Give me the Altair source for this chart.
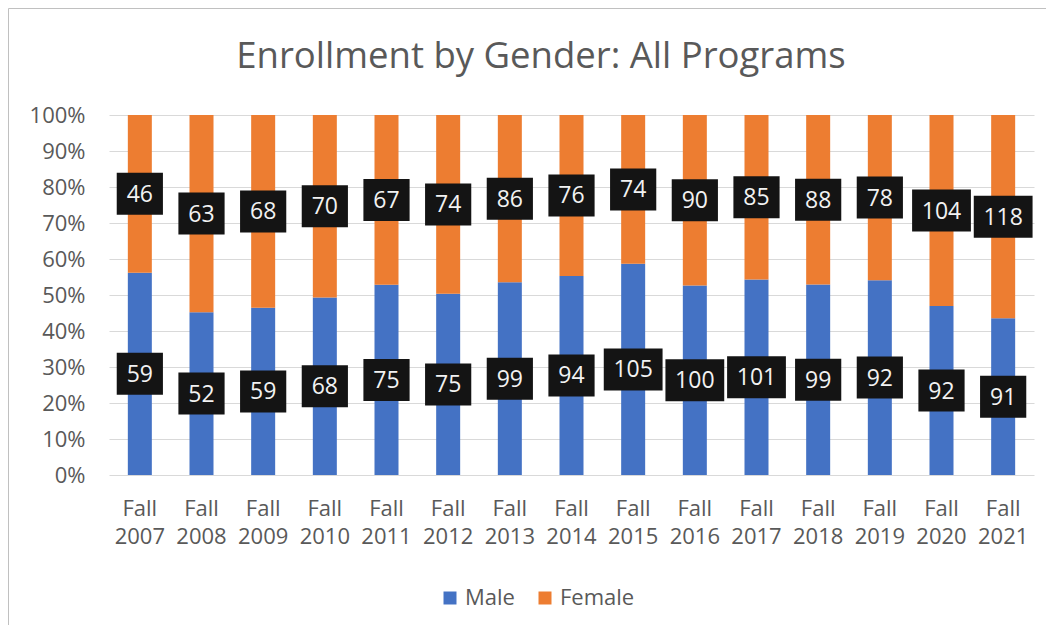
import altair as alt
import pandas as pd

years = ["Fall 2007", "Fall 2008", "Fall 2009", "Fall 2010", "Fall 2011",
         "Fall 2012", "Fall 2013", "Fall 2014", "Fall 2015", "Fall 2016",
         "Fall 2017", "Fall 2018", "Fall 2019", "Fall 2020", "Fall 2021"]
male = [59, 52, 59, 68, 75, 75, 99, 94, 105, 100, 101, 99, 92, 92, 91]
female = [46, 63, 68, 70, 67, 74, 86, 76, 74, 90, 85, 88, 78, 104, 118]
genders = ["Male", "Female"]
colors = ["#4472C4", "#ED7D31"]
y_ticks = [0, 0.1, 0.2, 0.3, 0.4, 0.5, 0.6, 0.7, 0.8, 0.9, 1.0]
title_text = "Enrollment by Gender: All Programs"

rows = []
for i, yr in enumerate(years):
    rows.append({"year": yr, "gender": "Male", "count": male[i], "order": 0})
    rows.append({"year": yr, "gender": "Female", "count": female[i], "order": 1})
df = pd.DataFrame(rows)

FONT = "Open Sans"
GRAY = "#595959"

base = alt.Chart(df).transform_stack(
    stack="count", groupby=["year"], as_=["y0", "y1"], offset="normalize",
    sort=[alt.SortField("order", "ascending")]
).transform_calculate(
    mid="(datum.y0 + datum.y1) / 2",
    ndig="toString(length(toString(datum.count)))"
)

xscale = alt.Scale(paddingInner=0, paddingOuter=0)
xaxis = alt.Axis(title=None, labelAngle=0, domain=False, ticks=False,
                 labelFont=FONT, labelFontSize=22, labelColor=GRAY,
                 labelPadding=23, labelLineHeight=28,
                 labelExpr="split(datum.label, ' ')")
yscale = alt.Scale(domain=[0, 1])
yaxis = alt.Axis(title=None, values=y_ticks, tickCount=len(y_ticks) + 2, format=".0%",
                 domain=False, ticks=False, labelOverlap=False,
                 labelFont=FONT, labelFontSize=22, labelColor=GRAY, labelPadding=24,
                 gridColor="#D9D9D9", gridWidth=1)

X = alt.X("year:N", sort=years, scale=xscale, axis=xaxis)

bars = base.mark_bar(width=24).encode(
    x=X,
    y=alt.Y("y0:Q", scale=yscale, axis=yaxis),
    y2="y1:Q",
    color=alt.Color("gender:N", scale=alt.Scale(domain=genders, range=colors),
                    legend=alt.Legend(title=None, orient="none", direction="horizontal",
                                      legendX=330, legendY=472,
                                      symbolType="square", symbolSize=169,
                                      symbolStrokeWidth=0, symbolOpacity=1,
                                      labelFont=FONT, labelFontSize=22,
                                      labelColor=GRAY, labelOffset=4,
                                      columnPadding=19)),
)

p2 = "M-1.1,-1L1.1,-1L1.1,1L-1.1,1Z"
p3 = "M-1.4,-1L1.4,-1L1.4,1L-1.4,1Z"
boxes = base.mark_point(filled=True, opacity=1, color="#141414", strokeWidth=0).encode(
    x=X,
    y=alt.Y("mid:Q", scale=yscale, axis=yaxis),
    shape=alt.Shape("ndig:N", scale=alt.Scale(domain=["2", "3"], range=[p2, p3]), legend=None),
    size=alt.value(1764),
)

labels = base.mark_text(color="#F2F2F2", font=FONT, fontSize=23, baseline="middle", dy=1).encode(
    x=X,
    y=alt.Y("mid:Q", scale=yscale, axis=yaxis),
    text="count:Q",
)

dummy = pd.DataFrame({"t": [title_text]})
title = alt.Chart(dummy).mark_text(font=FONT, fontSize=36.5, color=GRAY, align="center",
                                   baseline="alphabetic").encode(
    x=alt.value(432), y=alt.value(-47), text="t:N")
frame_left = alt.Chart(dummy).mark_rule(color="#C0C0C0", strokeWidth=1).encode(
    x=alt.value(-100.5), y=alt.value(-106.5), y2=alt.value(530))
frame_top = alt.Chart(dummy).mark_rule(color="#C0C0C0", strokeWidth=1).encode(
    x=alt.value(-100.5), x2=alt.value(940), y=alt.value(-106.5))

chart = alt.layer(bars, boxes, labels, title, frame_left, frame_top).properties(
    width=925, height=360,
    autosize=alt.AutoSizeParams(type="none"),
    padding={"left": 101, "top": 107, "right": 12, "bottom": 150},
).resolve_scale(shape="independent").configure_view(stroke=None)

chart.save("out.html", embed_options={"renderer": "svg", "actions": False})
